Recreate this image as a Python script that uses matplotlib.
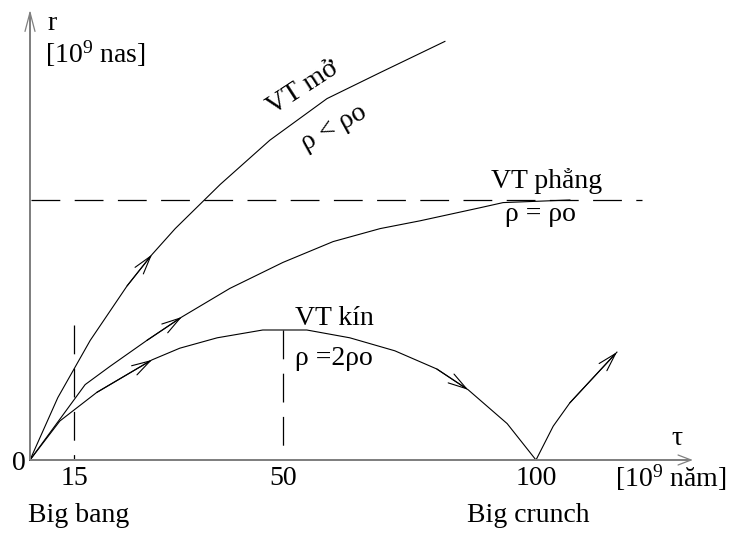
import matplotlib
matplotlib.use('Agg')
import matplotlib.pyplot as plt

plt.rcParams['font.family'] = ['Liberation Serif', 'DejaVu Serif']
plt.rcParams['font.size'] = 20
plt.rcParams['mathtext.fontset'] = 'custom'
plt.rcParams['mathtext.rm'] = 'Liberation Serif'

# ---- data (schematic) ----
tau_open = [0, 5.5, 11.9, 19.2, 24.1, 28.7, 37.6, 47.4, 58.7, 69.2, 82.0]
r_open = [0, 0.24, 0.46, 0.67, 0.79, 0.89, 1.06, 1.23, 1.39, 1.49, 1.61]

tau_flat = [0, 10.9, 15.8, 23.1, 30.0, 39.5, 50.0, 59.9, 69.2, 77.1, 88.9, 93.5, 106.7]
r_flat = [0, 0.29, 0.36, 0.46, 0.55, 0.66, 0.76, 0.84, 0.89, 0.92, 0.97, 0.99, 1.0]

tau_closed = [0, 5.9, 13.2, 24.1, 29.6, 37.0, 46.0, 54.7, 63.2, 72.1, 80.4, 86.6, 94.3, 100]
r_closed = [0, 0.15, 0.26, 0.385, 0.43, 0.47, 0.50, 0.50, 0.47, 0.42, 0.35, 0.27, 0.14, 0]

tau_bounce = [100, 103.4, 106.7, 116.0]
r_bounce = [0, 0.13, 0.22, 0.415]

r_critical = 1.0
tau_mark15 = 8.7          # schematic position of the "15" mark
r_mark15_top = 0.52
tau_max = 50
r_max = 0.50

tick_positions = [tau_mark15, 50, 100]
tick_labels = ['15', '50', '100']

# ---- figure ----
fig = plt.figure(figsize=(7.31, 5.33), dpi=100)
ax = fig.add_axes([30 / 731, 73 / 533, 701 / 731, 460 / 533])
ax.set_xlim(0, 138.54)
ax.set_ylim(0, 1.7692)
ax.patch.set_visible(False)

axis_col = '#808080'
for s in ['top', 'right']:
    ax.spines[s].set_visible(False)
for s in ['left', 'bottom']:
    ax.spines[s].set_color(axis_col)
    ax.spines[s].set_linewidth(1.44)
    ax.spines[s].set_capstyle('butt')
ax.spines['left'].set_bounds(0, 1.72)
ax.spines['bottom'].set_bounds(0, 130.5)

ax.set_xticks(tick_positions, tick_labels)
ax.set_yticks([0], ['0'])
ax.tick_params(axis='x', length=0, pad=4)
ax.tick_params(axis='y', length=0, pad=3)

# axis arrowheads
ax.annotate('', xy=(0, 1.731), xytext=(0, 1.65),
            arrowprops=dict(arrowstyle='->,head_length=13.7,head_width=3.6',
                            color=axis_col, lw=0.9, shrinkA=0, shrinkB=0,
                            mutation_scale=1), annotation_clip=False)
ax.annotate('', xy=(131.0, 0), xytext=(125, 0),
            arrowprops=dict(arrowstyle='->,head_length=9.4,head_width=3.6',
                            color=axis_col, lw=0.9, shrinkA=0, shrinkB=0,
                            mutation_scale=1), annotation_clip=False)

# dashed guides
dash = (0, (23.04, 11.52))
ax.plot([0.2, 120.9], [r_critical, r_critical], ls=dash, lw=0.9, color='black', clip_on=False)
ax.plot([tau_mark15, tau_mark15], [r_mark15_top, 0], ls=dash, lw=0.9, color='black', clip_on=False)
ax.plot([tau_max, tau_max], [r_max, 0], ls=dash, lw=0.9, color='black', clip_on=False)

# curves
lw = 0.8
ax.plot(tau_open, r_open, color='black', lw=lw, clip_on=False)
ax.plot(tau_flat, r_flat, color='black', lw=lw, clip_on=False)
ax.plot(tau_closed, r_closed, color='black', lw=lw, clip_on=False)
ax.plot(tau_bounce, r_bounce, color='black', lw=lw, clip_on=False)

arrowstyle = '->,head_length=13.3,head_width=3.8'


def arrow_on(xs, ys, i):
    ax.annotate('', xy=(xs[i], ys[i]), xytext=(xs[i - 1], ys[i - 1]),
                arrowprops=dict(arrowstyle=arrowstyle, color='black', lw=lw,
                                shrinkA=0, shrinkB=0, mutation_scale=1),
                annotation_clip=False)


arrow_on(tau_open, r_open, 4)
arrow_on(tau_flat, r_flat, 4)
arrow_on(tau_closed, r_closed, 3)
arrow_on(tau_closed, r_closed, 11)
arrow_on(tau_bounce, r_bounce, len(tau_bounce) - 1)

# labels
ax.text(3.36, 1.654, 'r', ha='left', va='baseline')
ax.text(2.96, 1.527, r'[$\mathregular{10^{9}}$ nas]', ha='left', va='baseline')
ax.text(127.9, 0.058, 'τ', ha='center', va='baseline')
ax.text(115.6, -0.104, r'[$\mathregular{10^{9}}$ năm]', ha='left', va='baseline', clip_on=False)
ax.text(9.7, -0.2385, 'Big bang', ha='center', va='baseline')
ax.text(98.4, -0.2385, 'Big crunch', ha='center', va='baseline')

ax.text(54.0, 1.431, 'VT mở', ha='center', va='center', rotation=33, rotation_mode='anchor')
ax.text(60.1, 1.277, 'ρ < ρo', ha='center', va='center', rotation=29, rotation_mode='anchor')
ax.text(102.0, 1.046, 'VT phẳng', ha='center', va='baseline')
ax.text(100.8, 0.919, 'ρ = ρo', ha='center', va='baseline')
ax.text(60.1, 0.519, 'VT kín', ha='center', va='baseline')
ax.text(52.4, 0.365, 'ρ =2ρo', ha='left', va='baseline')

fig.savefig('out.png', dpi=100, facecolor='white')
